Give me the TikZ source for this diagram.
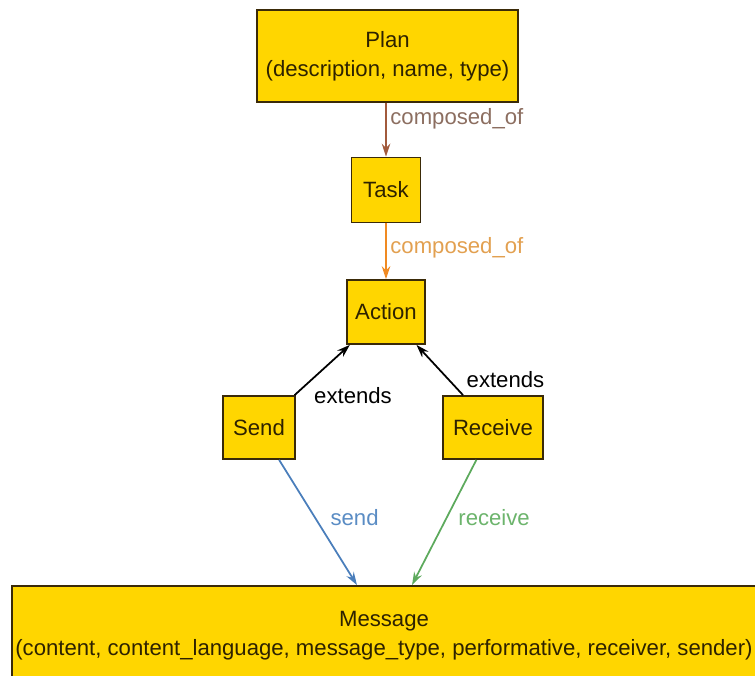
\documentclass[tikz,border=0pt]{standalone}
\usepackage{fontspec}
\setmainfont{Liberation Sans}
\usepackage{tikz}
\usetikzlibrary{positioning, arrows.meta, calc}
\definecolor{boxfill}{HTML}{FFD600}
\definecolor{boxline}{HTML}{3A2A08}
\definecolor{boxtext}{HTML}{2E2200}
\definecolor{brownedge}{HTML}{A25A3C}
\definecolor{brownlbl}{HTML}{8C6E60}
\definecolor{orangeedge}{HTML}{F08A22}
\definecolor{orangelbl}{HTML}{E2A050}
\definecolor{sendedge}{HTML}{4A7EBB}
\definecolor{sendlbl}{HTML}{5A8CC4}
\definecolor{recvedge}{HTML}{5DAA5D}
\definecolor{recvlbl}{HTML}{6CB46C}

\begin{document}
\begin{tikzpicture}[>={Stealth[length=2.6mm,width=1.7mm]},
	cls/.style={draw=boxline, fill=boxfill, line width=1pt, text=boxtext, align=center, inner sep=2pt, font=\fontsize{12.6}{16.5}\selectfont},
	lbl/.style={font=\fontsize{12.6}{15}\selectfont, inner sep=1pt},
	rel/.style={->, line width=1pt}]
		
		\useasboundingbox (0,0) rectangle (15.1,13.5);
		\clip (0,0) rectangle (15.1,13.5);
		
		% Draw classes
		\node[cls, minimum width=5.22cm, minimum height=1.84cm] (plan) at (7.75,12.38) {Plan\\(description, name, type)};
		\node[cls, minimum width=1.38cm, minimum height=1.3cm] (task) at (7.72,9.70) {Task};
		\node[cls, minimum width=1.56cm, minimum height=1.28cm] (action) at (7.72,7.26) {Action};
		\node[cls, minimum width=1.44cm, minimum height=1.26cm] (send) at (5.18,4.95) {Send};
		\node[cls, minimum width=2.0cm, minimum height=1.26cm] (receive) at (9.86,4.95) {Receive};
		\node[cls, minimum width=14.88cm, minimum height=1.98cm] (message) at (7.68,0.79) {Message\\(content, content\_language, message\_type, performative, receiver, sender)};
		
		% Draw composed_of
		\draw[rel, draw=brownedge] (plan.south -| task) -- (task) node[lbl, pos=0.3, anchor=west, xshift=1pt, text=brownlbl] {composed\_of};
		\draw[rel, draw=orangeedge] (task) -- (action) node[lbl, pos=0.43, anchor=west, xshift=1pt, text=orangelbl] {composed\_of};
		
		% Draw extends
		\draw[rel, draw=black] (send) -- (action) node[lbl, pos=0, anchor=west, xshift=0.34cm] {extends};
		\draw[rel, draw=black] (receive) -- (action) node[lbl, pos=0.3, anchor=west, xshift=0.3cm] {extends};
		
		% Draw send / receive
		\coordinate (sendin) at ([xshift=-0.54cm]message.north);
		\coordinate (recvin) at ([xshift=0.56cm]message.north);
		\draw[rel, draw=sendedge] (send) -- (sendin) node[lbl, pos=0.46, anchor=west, xshift=0.26cm, text=sendlbl] {send};
		\draw[rel, draw=recvedge] (receive) -- (recvin) node[lbl, pos=0.46, anchor=west, xshift=0.18cm, text=recvlbl] {receive};
		
	\end{tikzpicture}
\end{document}
